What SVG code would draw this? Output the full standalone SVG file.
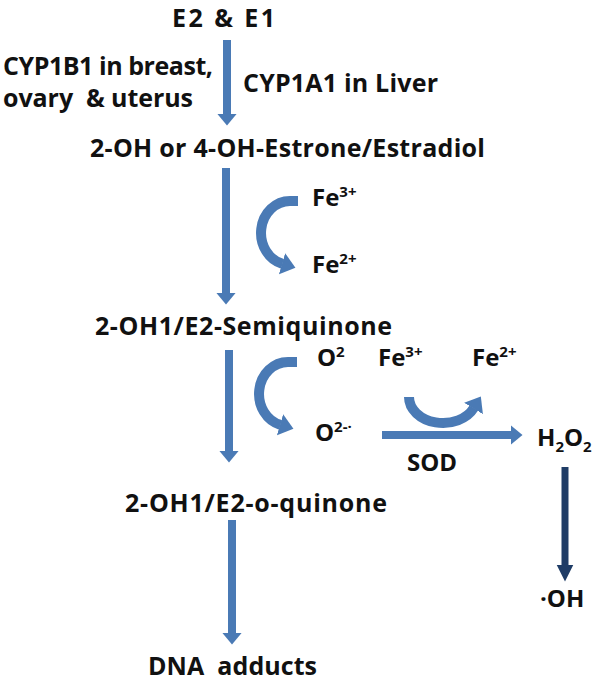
<svg xmlns="http://www.w3.org/2000/svg" width="598" height="681" viewBox="0 0 598 681">
<style>
text{font-family:"Open Sans","Liberation Sans",Arial,sans-serif;font-weight:bold;fill:#111;}
.big{font-size:25px;}
.sm{font-size:24px;}
.sup{font-size:15px;}
.arr{stroke:#4a7ab5;stroke-width:8;fill:none;}
.curv{stroke:#4a7ab5;stroke-width:10;fill:none;}
.dark{stroke:#1f3c66;stroke-width:7;fill:none;}
</style>
<defs>
<marker id="ah" markerUnits="userSpaceOnUse" viewBox="0 -11 13 22" markerWidth="13" markerHeight="22" refX="0.5" refY="0" orient="auto">
<path d="M0,-10 L12,0 L0,10 z" fill="#4a7ab5"/>
</marker>
<marker id="ahc" markerUnits="userSpaceOnUse" viewBox="0 -12 15 24" markerWidth="15" markerHeight="24" refX="0.5" refY="0" orient="auto">
<path d="M0,-11 L14,0 L0,11 z" fill="#4a7ab5"/>
</marker>
<marker id="ahd" markerUnits="userSpaceOnUse" viewBox="0 -9 18 18" markerWidth="18" markerHeight="18" refX="0.5" refY="0" orient="auto">
<path d="M0,-8.5 L17,0 L0,8.5 z" fill="#1f3c66"/>
</marker>
</defs>
<rect width="598" height="681" fill="#fff"/>

<g id="connectors">
<line class="arr" x1="227" y1="40" x2="227" y2="114" marker-end="url(#ah)"/>
<line class="arr" x1="226" y1="168" x2="226" y2="293" marker-end="url(#ah)"/>
<line class="arr" x1="229" y1="350" x2="229" y2="451" marker-end="url(#ah)"/>
<line class="arr" x1="232" y1="520" x2="232" y2="633" marker-end="url(#ah)"/>
<line class="arr" x1="382" y1="435" x2="511" y2="435" marker-end="url(#ah)"/>
<line class="dark" x1="565" y1="467" x2="565" y2="565" marker-end="url(#ahd)"/>
<path class="curv" d="M298,201 L290,201 A29,32 0 0 0 282.5,263.9" marker-end="url(#ahc)"/>
<path class="curv" d="M297,362 L288,362 A29,32 0 0 0 280.5,424.9" marker-end="url(#ahc)"/>
<path class="curv" d="M409,397 A34,26 0 0 0 473.8,408" marker-end="url(#ahc)"/>
</g>

<g id="n-e2e1"><text class="big" x="172" y="27" textLength="103">E2 &amp; E1</text></g>
<g id="n-cyp1b1">
<text class="big" x="3" y="75" textLength="210">CYP1B1 in breast,</text>
<text class="big" x="3" y="107" textLength="190" xml:space="preserve">ovary  &amp; uterus</text>
</g>
<g id="n-cyp1a1"><text class="big" x="243" y="92" textLength="195">CYP1A1 in Liver</text></g>
<g id="n-oh"><text class="big" x="90" y="157" textLength="395">2-OH or 4-OH-Estrone/Estradiol</text></g>
<g id="n-fe3a"><text class="sm" x="312" y="206">Fe<tspan class="sup" dy="-9">3+</tspan></text></g>
<g id="n-fe2a"><text class="sm" x="312" y="273">Fe<tspan class="sup" dy="-9">2+</tspan></text></g>
<g id="n-semi"><text class="big" x="95" y="335" textLength="297">2-OH1/E2-Semiquinone</text></g>
<g id="n-o2"><text class="sm" x="317" y="366">O<tspan class="sup" dy="-9">2</tspan></text></g>
<g id="n-fe3b"><text class="sm" x="378" y="366">Fe<tspan class="sup" dy="-9">3+</tspan></text></g>
<g id="n-fe2b"><text class="sm" x="472" y="366">Fe<tspan class="sup" dy="-9">2+</tspan></text></g>
<g id="n-o2rad"><text class="sm" x="315" y="441">O<tspan class="sup" dy="-9">2-·</tspan></text></g>
<g id="n-sod"><text class="sm" x="407" y="471">SOD</text></g>
<g id="n-h2o2"><text class="sm" x="537" y="446">H<tspan class="sup" dy="6">2</tspan><tspan dy="-6">O</tspan><tspan class="sup" dy="6">2</tspan></text></g>
<g id="n-oh-rad"><text class="sm" x="540" y="607">·OH</text></g>
<g id="n-quin"><text class="big" x="125" y="512" textLength="262">2-OH1/E2-o-quinone</text></g>
<g id="n-dna"><text class="big" x="148" y="675" textLength="169" xml:space="preserve">DNA  adducts</text></g>
</svg>
